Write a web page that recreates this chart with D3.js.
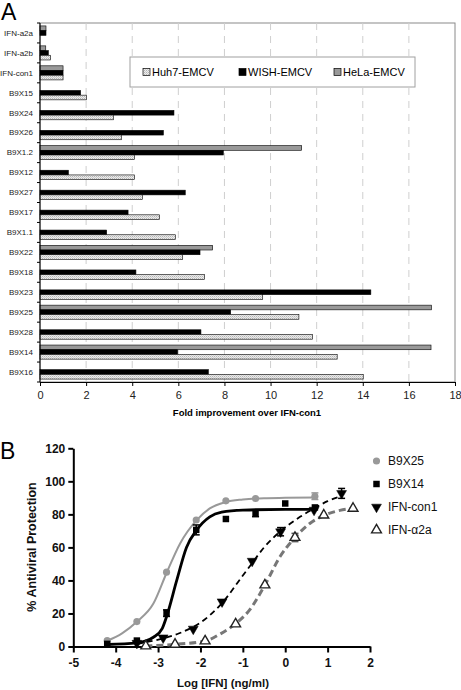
<!DOCTYPE html>
<html><head><meta charset="utf-8">
<script src="https://cdn.jsdelivr.net/npm/d3@7"></script>
<style>html,body{margin:0;padding:0;background:#fff;} svg{display:block;font-family:"Liberation Sans",Arial,sans-serif;}</style>
</head><body><svg id="c" width="461" height="690"></svg>
<script>
// ---------- Panel A data ----------
const categories = ["IFN-a2a","IFN-a2b","IFN-con1","B9X15","B9X24","B9X26","B9X1.2","B9X12","B9X27","B9X17","B9X1.1","B9X22","B9X18","B9X23","B9X25","B9X28","B9X14","B9X16"];
const huh7 = [null, 0.46, 1.0, 2.02, 3.19, 3.53, 4.1, 4.1, 4.44, 5.19, 5.88, 6.19, 7.14, 9.66, 11.23, 11.82, 12.89, 14.02];
const wish = [0.26, 0.36, 1.0, 1.76, 5.81, 5.35, 7.95, 1.23, 6.3, 3.82, 2.89, 6.94, 4.16, 14.35, 8.27, 6.98, 5.97, 7.3];
const hela = [0.26, 0.25, 1.0, null, null, null, 11.35, null, null, null, null, 7.49, null, null, 16.98, null, 16.96, null];
const seriesNamesA = ["Huh7-EMCV","WISH-EMCV","HeLa-EMCV"];
const xTicksA = [0,2,4,6,8,10,12,14,16,18];

// ---------- Panel B data: [logDose, %protection, error] ----------
const ptsB9X25 = [[-4.2,3.6,0],[-3.5,15.1,0],[-2.8,45.0,0],[-2.1,76.6,0],[-1.4,88.2,0],[-0.7,89.6,0],[0.7,91.0,2]];
const ptsB9X14 = [[-4.2,1.6,0],[-3.5,3.6,0],[-2.8,20.2,2],[-2.1,70.6,3],[-1.4,77.2,0],[-0.7,80.6,2],[0.0,86.6,0],[0.7,84.2,0]];
const ptsCon1  = [[-3.5,2.0,0],[-2.88,5.3,0],[-2.17,10.6,0],[-1.49,27.1,0],[-0.78,51.7,0],[-0.11,69.5,2.5],[0.68,82.6,0],[1.33,92.7,3]];
const ptsA2a   = [[-3.29,0.3,0],[-2.6,1.3,0],[-1.89,3.3,0],[-1.17,13.6,0],[-0.48,37.2,0],[0.23,66.0,2.5],[0.91,79.5,0],[1.6,83.6,0]];
// fitted curves
const fitB9X25 = [[-4.2,3.5],[-3.85,8],[-3.5,15],[-3.11,26],[-2.8,44.5],[-2.48,62.4],[-2.09,76.5],[-1.78,83.6],[-1.4,87.5],[-1.0,89],[-0.5,89.8],[0,90],[0.7,90.2]];
const fitB9X14 = [[-4.2,1.2],[-3.5,2.2],[-3.11,5.6],[-2.9,11],[-2.8,18],[-2.56,40],[-2.33,60],[-2.09,70.5],[-1.78,78.5],[-1.5,81.3],[-1.0,82.6],[0,83],[0.7,83]];
const fitCon1  = [[-3.5,1.5],[-2.9,4.8],[-2.5,8],[-2.2,11.5],[-2.0,14.5],[-1.5,26],[-1.0,43],[-0.78,50.5],[-0.5,60],[-0.11,69.8],[0.35,78.5],[0.7,83.8],[1.0,88],[1.33,91]];
const fitA2a   = [[-3.3,0.3],[-2.6,1.3],[-1.89,3.3],[-1.54,7.5],[-1.17,13.8],[-0.83,22.5],[-0.48,37.2],[-0.125,54.3],[0.23,66],[0.58,74.5],[0.91,79.3],[1.29,82.4],[1.6,83.6]];
const legendB = ["B9X25","B9X14","IFN-con1","IFN-\u03b12a"];
const xTicksB = [-5,-4,-3,-2,-1,0,1,2];
const yTicksB = [0,20,40,60,80,100,120];

const svg = d3.select("#c");

// ================= Panel A =================
svg.append("text").attr("x",1).attr("y",20).attr("font-size",23).text("A");
const A = {l:40, r:455, t:23, b:382};
const xA = d3.scaleLinear().domain([0,18]).range([A.l, A.r]);
const yA = d3.scaleBand().domain(categories).range([A.t, A.b]);
const defs = svg.append("defs");
const pat = defs.append("pattern").attr("id","dots").attr("patternUnits","userSpaceOnUse").attr("width",2).attr("height",2);
pat.append("rect").attr("width",2).attr("height",2).attr("fill","#ececec");
pat.append("rect").attr("width",1).attr("height",1).attr("fill","#b5b5b5");
pat.append("rect").attr("x",1).attr("y",1).attr("width",1).attr("height",1).attr("fill","#cfcfcf");

// plot border
svg.append("rect").attr("x",A.l).attr("y",A.t).attr("width",A.r-A.l).attr("height",A.b-A.t)
  .attr("fill","none").attr("stroke","#8a8a8a").attr("stroke-width",1);
// gridlines
svg.append("g").selectAll("line").data(xTicksA.slice(1,-1)).join("line")
  .attr("x1",d=>xA(d)).attr("x2",d=>xA(d)).attr("y1",A.t).attr("y2",A.b)
  .attr("stroke","#cfcfcf").attr("stroke-dasharray","7,6");

// legend A
const lg = svg.append("g");
lg.append("rect").attr("x",130).attr("y",57).attr("width",285).attr("height",30).attr("fill","#fff").attr("stroke","#a0a0a0");
const fillsA = ["url(#dots)","#000","#999"];
const lgX = [143,239,334];
seriesNamesA.forEach((n,i)=>{
  lg.append("rect").attr("x",lgX[i]).attr("y",68.5).attr("width",7).attr("height",7).attr("fill",fillsA[i]).attr("stroke","#000").attr("stroke-width",0.7);
  lg.append("text").attr("x",lgX[i]+9).attr("y",76).attr("font-size",11).text(n);
});

// bars
const bh = 4.7;
const seriesA = [hela, wish, huh7]; // top to bottom
const fillsTB = ["#999","#000","url(#dots)"];
const gBars = svg.append("g");
seriesA.forEach((arr,si)=>{
  gBars.selectAll(null).data(categories.map((c,i)=>({c, v:arr[i]})).filter(d=>d.v!=null)).join("rect")
    .attr("x",xA(0)).attr("width",d=>xA(d.v)-xA(0))
    .attr("y",d=>yA(d.c)+yA.bandwidth()/2 - bh*1.5 + si*bh).attr("height",bh)
    .attr("fill",fillsTB[si]).attr("stroke","#000").attr("stroke-width",0.6);
});

// axes A
const xAxisA = svg.append("g").attr("transform",`translate(0,${A.b})`)
  .call(d3.axisBottom(xA).tickValues(xTicksA).tickSize(4).tickSizeOuter(0));
xAxisA.select(".domain").attr("stroke","#000");
xAxisA.selectAll("text").attr("font-size",11).attr("fill","#222").attr("dy","0.9em").attr("font-family","Liberation Sans, Arial, sans-serif");
const yAxisA = svg.append("g").attr("transform",`translate(${A.l},0)`);
yAxisA.append("line").attr("x1",0).attr("x2",0).attr("y1",A.t).attr("y2",A.b).attr("stroke","#000");
yAxisA.selectAll("line.tk").data(d3.range(categories.length+1)).join("line").attr("class","tk")
  .attr("x1",-3).attr("x2",0).attr("y1",i=>A.t+i*yA.step()).attr("y2",i=>A.t+i*yA.step()).attr("stroke","#000");
yAxisA.selectAll("text").data(categories).join("text")
  .attr("x",-7).attr("y",d=>yA(d)+yA.bandwidth()/2).attr("dy","0.35em")
  .attr("text-anchor","end").attr("font-size",8).attr("fill","#222").text(d=>d);
svg.append("text").attr("x",247).attr("y",416).attr("text-anchor","middle").attr("font-size",9.5).attr("font-weight","bold").text("Fold improvement over IFN-con1");

// ================= Panel B =================
svg.append("text").attr("x",0).attr("y",459).attr("font-size",23).text("B");
const xB = d3.scaleLinear().domain([-5,2]).range([73.3,370]);
const yB = d3.scaleLinear().domain([0,120]).range([646.5,448.3]);

const yAxB = svg.append("g").attr("transform",`translate(${xB(-5)},0)`)
  .call(d3.axisLeft(yB).tickValues(yTicksB).tickFormat(d=>String(d)).tickSize(5).tickSizeOuter(0));
const xAxB = svg.append("g").attr("transform",`translate(0,${yB(0)})`)
  .call(d3.axisBottom(xB).tickValues(xTicksB).tickFormat(d=>String(d)).tickSize(6).tickSizeOuter(0));
[yAxB,xAxB].forEach(g=>{
  g.select(".domain").attr("stroke","#000").attr("stroke-width",2);
  g.selectAll(".tick line").attr("stroke","#000").attr("stroke-width",2);
  g.selectAll("text").attr("font-size",12).attr("font-weight","bold").attr("fill","#111").attr("font-family","Liberation Sans, Arial, sans-serif");
});
yAxB.selectAll("text").attr("x",-8);
xAxB.selectAll("text").attr("dy","0.95em");
svg.append("text").attr("transform","translate(36,547) rotate(-90)").attr("text-anchor","middle")
  .attr("font-size",12.5).attr("font-weight","bold").attr("fill","#111").text("% Antiviral Protection");
svg.append("text").attr("x",223).attr("y",687).attr("text-anchor","middle")
  .attr("font-size",11.5).attr("font-weight","bold").attr("fill","#111").text("Log [IFN] (ng/ml)");

const line = d3.line().x(d=>xB(d[0])).y(d=>yB(d[1])).curve(d3.curveMonotoneX);
const gC = svg.append("g").attr("fill","none");
gC.append("path").attr("d",line(fitA2a)).attr("stroke","#777").attr("stroke-width",3).attr("stroke-dasharray","7,4");
gC.append("path").attr("d",line(fitCon1)).attr("stroke","#000").attr("stroke-width",1.8).attr("stroke-dasharray","6,4");
gC.append("path").attr("d",line(fitB9X25)).attr("stroke","#999").attr("stroke-width",2);
gC.append("path").attr("d",line(fitB9X14)).attr("stroke","#000").attr("stroke-width",2.8);

// error bars
function errBars(pts,color){
  const g = svg.append("g").attr("stroke",color).attr("stroke-width",1.5);
  pts.filter(d=>d[2]>0).forEach(d=>{
    const x=xB(d[0]), y1=yB(d[1]-d[2]), y2=yB(d[1]+d[2]);
    g.append("line").attr("x1",x).attr("x2",x).attr("y1",y1).attr("y2",y2);
    g.append("line").attr("x1",x-3.5).attr("x2",x+3.5).attr("y1",y1).attr("y2",y1);
    g.append("line").attr("x1",x-3.5).attr("x2",x+3.5).attr("y1",y2).attr("y2",y2);
  });
}
errBars(ptsA2a,"#555"); errBars(ptsCon1,"#000"); errBars(ptsB9X25,"#999"); errBars(ptsB9X14,"#000");

const sym = {
  circle: d3.symbol().type(d3.symbolCircle).size(40),
  square: d3.symbol().type(d3.symbolSquare).size(42),
  tri: d3.symbol().type(d3.symbolTriangle).size(42)
};
function marks(pts,gen,fill,stroke,sw,rot){
  svg.append("g").selectAll("path").data(pts).join("path")
    .attr("d",gen()).attr("transform",d=>`translate(${xB(d[0])},${yB(d[1])}) rotate(${rot})`)
    .attr("fill",fill).attr("stroke",stroke).attr("stroke-width",sw);
}
marks(ptsA2a,sym.tri,"#fff","#222",1.4,0);
marks(ptsCon1,sym.tri,"#000","#000",0.5,180);
marks(ptsB9X25,sym.circle,"#999","none",0,0);
marks(ptsB9X14,sym.square,"#000","none",0,0);

// legend B
const lgB = svg.append("g");
const lgY = [461,484,507,530];
const lgSym = [[sym.circle,"#999","none",0,0],[sym.square,"#000","none",0,0],[sym.tri,"#000","#000",0.5,180],[sym.tri,"#fff","#222",1.4,0]];
legendB.forEach((n,i)=>{
  const s=lgSym[i];
  lgB.append("path").attr("d",s[0]()).attr("transform",`translate(376.5,${lgY[i]}) rotate(${s[4]})`)
    .attr("fill",s[1]).attr("stroke",s[2]).attr("stroke-width",s[3]);
  lgB.append("text").attr("x",388).attr("y",lgY[i]).attr("dy","0.35em").attr("font-size",12).attr("fill","#111").text(n);
});
</script></body></html>
